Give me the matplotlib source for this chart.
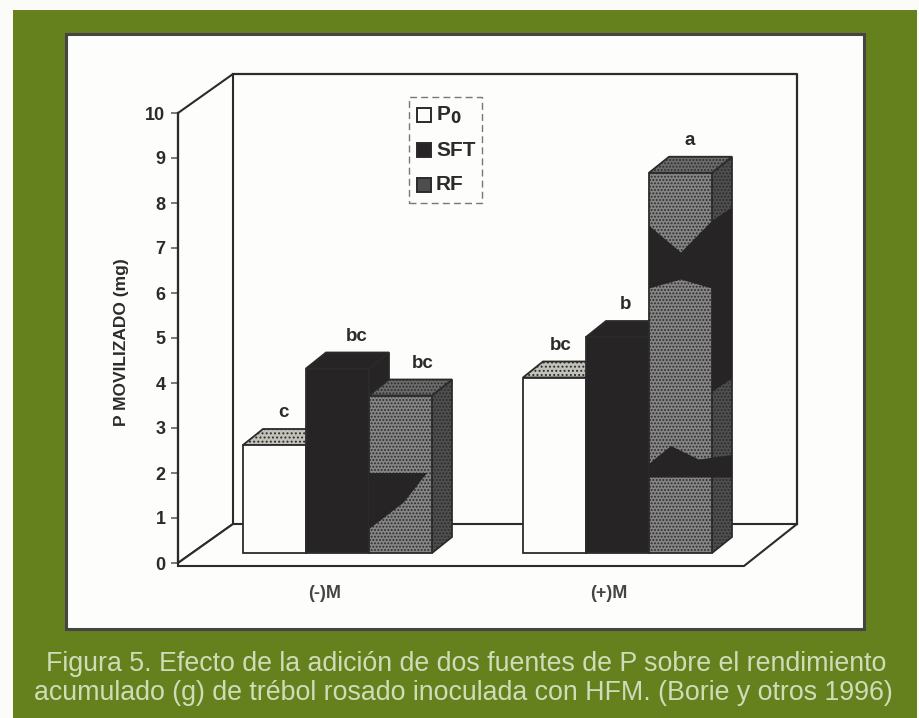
import matplotlib
matplotlib.use("Agg")
import matplotlib.pyplot as plt
from matplotlib.patches import Polygon, Rectangle

groups = ["(-)M", "(+)M"]
series = ["P$_{\\mathbf{0}}$", "SFT", "RF"]
p0_values = [2.4, 3.9]
sft_values = [4.1, 4.8]
rf_values = [3.5, 8.45]
p0_letters = ["c", "bc"]
sft_letters = ["bc", "b"]
rf_letters = ["bc", "a"]
y_ticks = list(range(0, 11))

plt.rcParams["font.family"] = ["Liberation Sans", "DejaVu Sans"]
plt.rcParams["hatch.linewidth"] = 0.9
plt.rcParams["hatch.color"] = "#1c1c1c"

GREEN = "#65811e"
INK = "#2b2b2b"
BLACK = "#262424"
WHITE = "#fdfdfb"
W, H = 919, 718

fig = plt.figure(figsize=(W / 100, H / 100), dpi=100, facecolor="#fbfbf8")

# green card and white plate, in figure pixels
fig.add_artist(Rectangle((13 / W, 0), 904 / W, 708 / H, transform=fig.transFigure,
                         facecolor=GREEN, edgecolor="none", zorder=-2))
fig.add_artist(Rectangle((66 / W, 1 - 629 / H), 798 / W, 595 / H, transform=fig.transFigure,
                         facecolor=WHITE, edgecolor="#454545", linewidth=2.2, zorder=-1))

# axes = front plane of the 3d box, x counted in pixels from the left edge
ax = fig.add_axes([178 / W, 1 - 563 / H, 567 / W, 450 / H], zorder=2)
ax.set_xlim(0, 567)
ax.set_ylim(0, 10)
ax.patch.set_visible(False)
for s in ["top", "right", "bottom"]:
    ax.spines[s].set_visible(False)
ax.spines["left"].set_color(INK)
ax.spines["left"].set_linewidth(1.6)

px = 10 / 450  # one pixel in value units

# box walls and floor
wall_dx, wall_dy = 55, 39 * px
top = 10
ax.add_patch(Polygon([(0, 0), (wall_dx, wall_dy), (wall_dx, top + wall_dy), (0, top)], closed=True,
                     facecolor="none", edgecolor=INK, linewidth=1.5, clip_on=False))
ax.plot([wall_dx, 619, 619], [top + wall_dy, top + wall_dy, wall_dy], color=INK, linewidth=1.6, clip_on=False)
ax.add_patch(Polygon([(0, 0), (wall_dx, wall_dy), (619, wall_dy), (566, -3 * px), (0, -3 * px)], closed=True,
                     facecolor=WHITE, edgecolor=INK, linewidth=1.5, clip_on=False))

base = 10 * px
dx, dy = 20, 16 * px


def bar3d(x0, width, value, front, topc, side, hatch=None, top_hatch=None):
    # front face sits a bit inside the floor, depth goes up and to the right
    y1 = base + value
    kw = dict(edgecolor=INK, linewidth=1.3, clip_on=False)
    ax.add_patch(Polygon([(x0 + width, base), (x0 + width + dx, base + dy),
                          (x0 + width + dx, y1 + dy), (x0 + width, y1)], closed=True, facecolor=side, hatch=hatch, **kw))
    ax.add_patch(Polygon([(x0, y1), (x0 + dx, y1 + dy), (x0 + width + dx, y1 + dy), (x0 + width, y1)],
                         closed=True, facecolor=topc, hatch=top_hatch, **kw))
    ax.add_patch(Rectangle((x0, base), width, value, facecolor=front, hatch=hatch, **kw))
    return y1 + dy


group_left = [65, 345]
bar_w = 63
letter_x = [[40, 38], [51, 40], [54, 41]]
letter_size = 13.5
for i, g in enumerate(groups):
    x = group_left[i]
    y = bar3d(x, bar_w, p0_values[i], WHITE, "#c2c2ba", WHITE, None, "....")
    ax.text(x + letter_x[0][i], y + 8 * px, p0_letters[i], ha="center", va="bottom", fontsize=letter_size,
            fontweight="bold", color=INK)
    y = bar3d(x + bar_w, bar_w, sft_values[i], BLACK, BLACK, BLACK)
    ax.text(x + bar_w + letter_x[1][i], y + 8 * px, sft_letters[i], ha="center", va="bottom", fontsize=letter_size,
            fontweight="bold", color=INK)
    y = bar3d(x + 2 * bar_w, bar_w, rf_values[i], "#858585", "#6c6c6c", "#4f4f4f", ".....", ".....")
    ax.text(x + 2 * bar_w + letter_x[2][i], y + 8 * px, rf_letters[i], ha="center", va="bottom", fontsize=letter_size,
            fontweight="bold", color=INK)

# dark blotches on the RF bars from the printing
blotch = dict(facecolor=BLACK, edgecolor="none", zorder=4, clip_on=False)
x_rf = group_left[0] + 2 * bar_w
ax.add_patch(Polygon([(x_rf, 2.0), (x_rf + 58, 2.0), (x_rf + 35, 1.35), (x_rf, 0.75)], closed=True, **blotch))
x_rf = group_left[1] + 2 * bar_w
ax.add_patch(Polygon([(x_rf, 6.1), (x_rf, 7.5), (x_rf + 32, 6.9), (x_rf + 63, 7.6), (x_rf + 83, 7.9),
                      (x_rf + 83, 4.1), (x_rf + 63, 3.8), (x_rf + 63, 6.1), (x_rf + 32, 6.3)], closed=True, **blotch))
ax.add_patch(Polygon([(x_rf, 1.9), (x_rf + 83, 1.9), (x_rf + 83, 2.4), (x_rf + 50, 2.3), (x_rf + 22, 2.6),
                      (x_rf, 2.2)], closed=True, **blotch))

# ticks and labels
ax.set_yticks(y_ticks)
ax.tick_params(axis="y", length=5, width=1.1, color="#555555", labelsize=13, labelcolor=INK, pad=4)
for t in ax.get_yticklabels():
    t.set_fontweight("bold")
ax.set_xticks([147, 431])
ax.set_xticklabels(groups, fontsize=13, fontweight="bold", color="#444444")
ax.tick_params(axis="x", length=0, pad=16)
ax.set_ylabel("P MOVILIZADO (mg)", fontsize=12.5, fontweight="bold", color=INK, labelpad=12, y=0.49)

# legend drawn by hand to keep the dashed box and small squares
leg_x = 231
ax.add_patch(Rectangle((leg_x, 10 - 90 * px), 73, 106 * px, facecolor=WHITE, edgecolor="#777777",
                       linewidth=1, linestyle=(0, (5, 3)), clip_on=False, zorder=5))
leg_faces = [WHITE, BLACK, "#4d4d4d"]
leg_y = [10 - 2 * px, 10 - 37 * px, 10 - 72 * px]
for name, face, ly in zip(series, leg_faces, leg_y):
    ax.add_patch(Rectangle((leg_x + 8, ly - 7 * px), 14, 14 * px, facecolor=face, edgecolor=INK, linewidth=1.4,
                           clip_on=False, zorder=6))
    ax.text(leg_x + 27, ly, name, ha="left", va="center", fontsize=15, fontweight="bold", color=INK, zorder=6)

caption_1 = "Figura 5. Efecto de la adición de dos fuentes de P sobre el rendimiento"
caption_2 = "acumulado (g) de trébol rosado inoculada con HFM. (Borie y otros 1996)"
fig.text(466 / W, 1 - 664 / H, caption_1, ha="center", va="center", fontsize=19.3, color="#d0dcb8")
fig.text(463 / W, 1 - 693 / H, caption_2, ha="center", va="center", fontsize=19.3, color="#d0dcb8")

fig.savefig("out.png", dpi=100, facecolor=fig.get_facecolor())
